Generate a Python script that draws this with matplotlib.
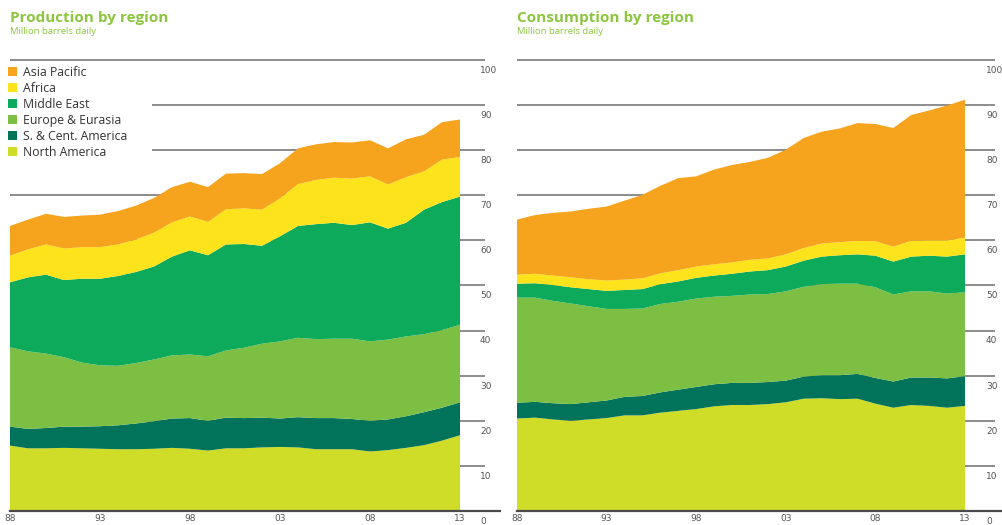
import numpy as np
import matplotlib
matplotlib.use("Agg")
import matplotlib.pyplot as plt
from matplotlib.patches import Patch, Rectangle

plt.rcParams['font.family'] = ['Open Sans', 'DejaVu Sans']

## data (million barrels daily), 1988 - 2013
years = np.arange(1988, 2014)
regions = ['North America', 'S. & Cent. America', 'Europe & Eurasia',
           'Middle East', 'Africa', 'Asia Pacific']
colors = ['#cfdc28', '#00735a', '#7cbf43', '#0eaa5c', '#fde31b', '#f6a31d']

prod_na = [14.5, 13.9, 13.9, 14.0, 13.9, 13.8, 13.7, 13.7, 13.8, 14.0, 13.8, 13.4, 13.9,
           13.9, 14.1, 14.2, 14.1, 13.7, 13.7, 13.7, 13.2, 13.5, 14.0, 14.6, 15.6, 16.8]
prod_sca = [4.2, 4.3, 4.5, 4.7, 4.8, 5.0, 5.3, 5.7, 6.1, 6.5, 6.8, 6.6, 6.8,
            6.7, 6.6, 6.3, 6.7, 6.9, 6.9, 6.7, 6.8, 6.8, 7.0, 7.3, 7.3, 7.3]
prod_ee = [17.6, 17.2, 16.5, 15.4, 14.2, 13.5, 13.2, 13.4, 13.7, 14.0, 14.1, 14.3, 14.9,
           15.6, 16.4, 17.1, 17.6, 17.5, 17.6, 17.8, 17.6, 17.7, 17.7, 17.3, 17.2, 17.2]
prod_me = [14.4, 16.4, 17.5, 17.1, 18.6, 19.2, 19.9, 20.2, 20.6, 21.9, 23.1, 22.4, 23.5,
           23.0, 21.7, 23.3, 24.8, 25.5, 25.7, 25.2, 26.4, 24.6, 25.2, 27.6, 28.4, 28.4]
prod_af = [5.9, 6.2, 6.7, 7.0, 7.0, 7.0, 7.0, 7.2, 7.5, 7.6, 7.5, 7.4, 7.8,
           7.9, 8.0, 8.4, 9.3, 9.8, 10.0, 10.3, 10.2, 9.8, 10.1, 8.5, 9.4, 8.8]
prod_ap = [6.6, 6.6, 6.8, 7.0, 7.0, 7.2, 7.4, 7.5, 7.7, 7.8, 7.7, 7.7, 7.9,
           7.8, 7.9, 7.8, 7.9, 7.9, 7.9, 8.0, 8.0, 8.0, 8.4, 8.1, 8.3, 8.3]

cons_na = [20.5, 20.7, 20.3, 20.0, 20.3, 20.6, 21.2, 21.2, 21.8, 22.2, 22.6, 23.2, 23.5,
           23.5, 23.7, 24.1, 24.9, 25.0, 24.8, 24.9, 23.8, 22.9, 23.5, 23.3, 22.9, 23.3]
cons_sca = [3.5, 3.5, 3.6, 3.7, 3.8, 3.9, 4.1, 4.3, 4.5, 4.7, 4.9, 4.9, 4.9,
            4.9, 4.9, 4.8, 4.9, 5.1, 5.3, 5.5, 5.7, 5.8, 6.1, 6.3, 6.5, 6.6]
cons_ee = [23.3, 23.1, 22.7, 22.3, 21.3, 20.3, 19.5, 19.4, 19.6, 19.5, 19.6, 19.4, 19.3,
           19.6, 19.5, 19.8, 19.9, 20.2, 20.3, 20.0, 20.1, 19.3, 19.1, 19.1, 18.8, 18.6]
cons_me = [3.1, 3.2, 3.5, 3.6, 3.8, 4.0, 4.2, 4.3, 4.4, 4.5, 4.6, 4.7, 4.9,
           5.1, 5.3, 5.5, 5.8, 6.1, 6.3, 6.5, 7.0, 7.3, 7.7, 7.9, 8.2, 8.4]
cons_af = [2.0, 2.1, 2.1, 2.2, 2.2, 2.3, 2.3, 2.4, 2.4, 2.5, 2.5, 2.5, 2.5,
           2.6, 2.6, 2.7, 2.8, 2.9, 2.9, 3.0, 3.2, 3.3, 3.5, 3.4, 3.6, 3.7]
cons_ap = [12.2, 13.0, 13.9, 14.6, 15.6, 16.4, 17.5, 18.5, 19.4, 20.4, 20.0, 21.0, 21.6,
           21.7, 22.3, 23.2, 24.4, 24.8, 25.2, 26.1, 26.0, 26.3, 27.9, 28.8, 29.9, 30.6]

xticks = [1988, 1993, 1998, 2003, 2008, 2013]
xtick_labels = ['88', '93', '98', '03', '08', '13']
yticks = list(range(0, 101, 10))

green = '#8cc63f'
grey = '#6e6e6e'
tick_grey = '#555555'

W, H = 1003, 525
fig = plt.figure(figsize=(W / 100, H / 100), dpi=100)


def panel(x0, x1, xend, xlab, series, title, legend=False):
    # axes placed in pixel coords: data starts at x0, 2013 at x1,
    # gridlines end at xend, y tick labels start at xlab
    y0, ytop = 511, 57.7
    width = xend - x0
    ax = fig.add_axes([x0 / W, (H - y0) / H, width / W, (y0 - ytop) / H])
    pxyr = (x1 - x0) / 25.0
    ax.set_xlim(1988, 1988 + width / pxyr)
    ax.set_ylim(0, 100.5)
    for s in ax.spines.values():
        s.set_visible(False)
    ax.set_yticks([])
    ax.set_xticks(xticks)
    ax.set_xticklabels(xtick_labels, fontsize=6.5, color=tick_grey,
                       family='DejaVu Sans')
    ax.tick_params(axis='x', length=0, pad=2.5)

    for v in yticks[1:]:
        ax.axhline(v, color=grey, lw=1.1, zorder=0)
    ax.axhline(0, color='#4a4a4a', lw=1.6, xmax=(W - x0 if x0 > 500 else 500 - x0) / width,
               clip_on=False, zorder=3)
    ax.stackplot(years, *series, colors=colors, lw=0, zorder=1)

    for v in yticks:
        ax.text((xlab - x0) / width, v - 1.3, str(v), transform=ax.get_yaxis_transform(),
                ha='left', va='top', fontsize=6.5, color=tick_grey,
                family='DejaVu Sans', clip_on=False)

    fig.text(x0 / W, 1 - 18 / H, title, fontsize=11, fontweight='bold',
             color=green, va='center')
    fig.text(x0 / W, 1 - 32 / H, 'Million barrels daily', fontsize=6.8,
             color=green, va='center')

    if legend:
        # white block behind the legend hides the gridlines
        ax.add_patch(Rectangle((0, 0.78), 142 / width, 0.2, transform=ax.transAxes,
                               facecolor='white', edgecolor='none', zorder=0.5))
        handles = [Patch(facecolor=c, edgecolor='none') for c in colors[::-1]]
        leg = ax.legend(handles, regions[::-1], loc='upper left',
                        bbox_to_anchor=(-0.012, 0.99), frameon=False,
                        fontsize=8.8, handlelength=0.75, handleheight=0.75,
                        handletextpad=0.45, labelspacing=0.25,
                        borderpad=0.3, borderaxespad=0)
        for t in leg.get_texts():
            t.set_color('#333333')
    return ax


panel(10, 460, 485, 480,
      [prod_na, prod_sca, prod_ee, prod_me, prod_af, prod_ap],
      'Production by region', legend=True)
panel(517, 965, 995, 986,
      [cons_na, cons_sca, cons_ee, cons_me, cons_af, cons_ap],
      'Consumption by region')

fig.savefig('out.png', dpi=100)
